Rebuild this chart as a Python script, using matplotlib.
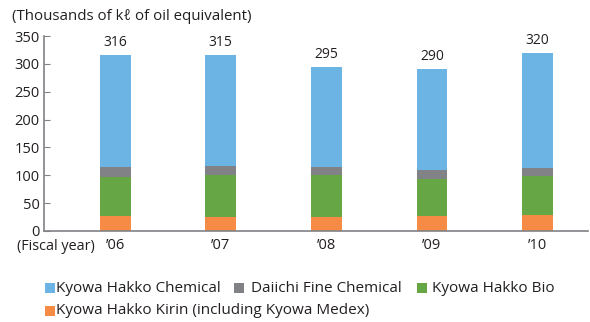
import matplotlib
matplotlib.use("Agg")
import matplotlib.pyplot as plt
from matplotlib.patches import Rectangle
import numpy as np

plt.rcParams['font.family'] = ['Open Sans', 'DejaVu Sans']

years = ["’06", "’07", "’08", "’09", "’10"]
totals = [316, 315, 295, 290, 320]
kirin = [27, 25, 25, 27, 29]
bio = [70, 75, 75, 66, 70]
daiichi = [17, 17, 15, 17, 14]
chemical = [202, 198, 180, 180, 207]

series = [
    ("Kyowa Hakko Kirin (including Kyowa Medex)", kirin, "#F68B46"),
    ("Kyowa Hakko Bio", bio, "#67A644"),
    ("Daiichi Fine Chemical", daiichi, "#808285"),
    ("Kyowa Hakko Chemical", chemical, "#6CB4E4"),
]

W, H = 590, 322
fig = plt.figure(figsize=(W / 100, H / 100), dpi=100)
ax = fig.add_axes([44 / W, 1 - 231 / H, (588 - 44) / W, (231 - 36) / H])

x = np.arange(len(years))
bottom = np.zeros(len(years))
for name, vals, col in series:
    ax.bar(x, vals, width=0.29, bottom=bottom, color=col, linewidth=0)
    bottom += np.array(vals)

for xi, t in zip(x, totals):
    ax.text(xi, t + 9, str(t), ha='center', va='bottom', fontsize=10, color='#231F20')

ax.set_xlim(-0.675, 4.48)
ax.set_ylim(0, 350)
ax.set_yticks(range(0, 351, 50))
ax.set_xticks(x)
ax.set_xticklabels(years)
for s in ['top', 'right']:
    ax.spines[s].set_visible(False)
ax.spines['left'].set_color('#808285')
ax.spines['bottom'].set_color('#808285')
ax.spines['left'].set_linewidth(1.2)
ax.spines['bottom'].set_linewidth(1.2)
ax.tick_params(axis='y', direction='in', length=4, color='#808285', labelsize=10.5, pad=3, labelcolor='#231F20')
ax.tick_params(axis='x', length=0, labelsize=10.5, pad=5, labelcolor='#231F20')

fig.text(12 / W, 1 - 16 / H, "(Thousands of kℓ of oil equivalent)", fontsize=10.8, va='center', ha='left', color='#231F20')
fig.text(17 / W, 1 - 247 / H, "(Fiscal year)", fontsize=10.4, va='center', ha='left', color='#231F20')

legend_items = [
    ("Kyowa Hakko Chemical", "#6CB4E4", 45, 56, 288),
    ("Daiichi Fine Chemical", "#808285", 234, 251, 288),
    ("Kyowa Hakko Bio", "#67A644", 417, 432, 288),
    ("Kyowa Hakko Kirin (including Kyowa Medex)", "#F68B46", 45, 56, 311),
]
for name, col, px, tx, py in legend_items:
    fig.add_artist(Rectangle((px / W, 1 - (py + 5) / H), 10 / W, 10 / H,
                             transform=fig.transFigure, color=col, linewidth=0))
    fig.text(tx / W, 1 - py / H, name, fontsize=11, va='center', ha='left', color='#231F20')

fig.savefig("out.png", dpi=100)
